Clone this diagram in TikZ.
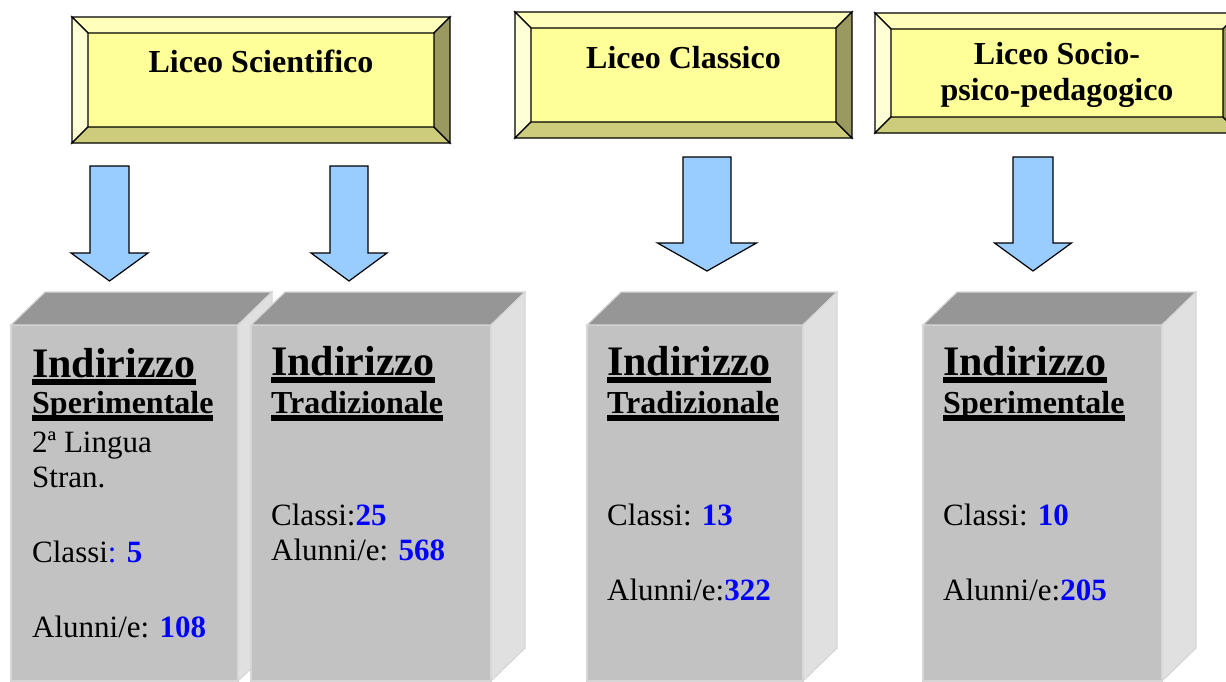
\documentclass[tikz,border=0pt]{standalone}
\usepackage{fontspec}
\setmainfont{Liberation Serif}

\definecolor{facey}{HTML}{FFFF99}
\definecolor{bevtop}{HTML}{FFFFBB}
\definecolor{bevleft}{HTML}{FFFFD6}
\definecolor{bevbottom}{HTML}{CCCC7A}
\definecolor{bevright}{HTML}{999960}
\definecolor{arrowblue}{HTML}{99CCFF}
\definecolor{cardfront}{HTML}{C2C2C2}
\definecolor{cardtop}{HTML}{969696}
\definecolor{cardside}{HTML}{E0E0E0}
\definecolor{cardedge}{HTML}{D6D6D6}
\definecolor{numblue}{HTML}{0000FF}

\newcommand{\thickul}[1]{\setbox0\hbox{#1}\rlap{\copy0}\rule[-8pt]{\wd0}{6pt}}
\newcommand{\bnum}[1]{\textcolor{numblue}{\bfseries #1}}

\begin{document}
\begin{tikzpicture}[x=1pt,y=-1pt,
    bevel/.style={draw=black,line width=1.3pt,line join=miter},
    blockarrow/.style={draw=black,line width=1.2pt,fill=arrowblue,line join=miter},
    card/.style={draw=cardedge,line width=1.2pt},
    title/.style={font=\fontsize{32}{36}\selectfont\bfseries,inner sep=0pt},
    head/.style={font=\fontsize{42}{46}\selectfont\bfseries,inner sep=0pt,anchor=base west},
    sub/.style={font=\fontsize{32}{36}\selectfont\bfseries,inner sep=0pt,anchor=base west},
    info/.style={font=\fontsize{31}{35}\selectfont,inner sep=0pt,anchor=base west,align=left}]

    \useasboundingbox (0,0) rectangle (1226,681);

    % bevelled boxes on top
    \foreach \l/\t/\r/\b in {72/17/450/143, 515/12/852/138, 875/13/1239/133}{
        \fill[facey] ({\l+16},{\t+16}) rectangle ({\r-16},{\b-16});
        \filldraw[bevel,fill=bevtop] (\l,\t) -- (\r,\t) -- ({\r-16},{\t+16}) -- ({\l+16},{\t+16}) -- cycle;
        \filldraw[bevel,fill=bevleft] (\l,\t) -- ({\l+16},{\t+16}) -- ({\l+16},{\b-16}) -- (\l,\b) -- cycle;
        \filldraw[bevel,fill=bevbottom] (\l,\b) -- ({\l+16},{\b-16}) -- ({\r-16},{\b-16}) -- (\r,\b) -- cycle;
        \filldraw[bevel,fill=bevright] (\r,\t) -- (\r,\b) -- ({\r-16},{\b-16}) -- ({\r-16},{\t+16}) -- cycle;
    }

    \node[title,anchor=base] (sci) at (261,72) {Liceo Scientifico};
    \node[title,anchor=base] (cla) at (683.5,68) {Liceo Classico};
    \node[title,align=center] (soc) at (1057,74.5) {Liceo Socio-\\psico-pedagogico};

    % block arrows
    \foreach \cx/\sw/\hw/\ya/\yb/\yc in {109.5/19.5/38.5/166/253/281, 349/19/38/166/253/281,
                                         707/24/49.5/157/243/271, 1033/20/38.5/157/243/271}{
        \filldraw[blockarrow] ({\cx-\sw},\ya) -- ({\cx+\sw},\ya) -- ({\cx+\sw},\yb) -- ({\cx+\hw},\yb)
            -- (\cx,\yc) -- ({\cx-\hw},\yb) -- ({\cx-\sw},\yb) -- cycle;
    }

    % grey blocks
    \foreach \l/\r in {11/238, 251/491, 587/803, 923/1162}{
        \filldraw[card,fill=cardfront] (\l,325) rectangle (\r,681);
        \filldraw[card,fill=cardtop] (\l,325) -- ({\l+34},292) -- ({\r+34},292) -- (\r,325) -- cycle;
        \filldraw[card,fill=cardside] (\r,325) -- ({\r+34},292) -- ({\r+34},648) -- (\r,681) -- cycle;
    }

    \node[head] (indA) at (32,377) {\thickul{Indirizzo}};
    \node[sub] (subA) at (32,413) {\thickul{Sperimentale}};
    \node[info] (infA) at (32,637) {2ª Lingua\\Stran.\\[40pt]Classi\textcolor{numblue}{: \textbf{5}}\\[40pt]Alunni/e: \bnum{108}};

    \node[head] (indB) at (271,375) {\thickul{Indirizzo}};
    \node[sub] (subB) at (271,413) {\thickul{Tradizionale}};
    \node[info] (infB) at (271,560) {Classi:\bnum{25}\\Alunni/e: \bnum{568}};

    \node[head] (indC) at (607,375) {\thickul{Indirizzo}};
    \node[sub] (subC) at (607,413) {\thickul{Tradizionale}};
    \node[info] (infC) at (607,600) {Classi: \bnum{13}\\[40pt]Alunni/e:\bnum{322}};

    \node[head] (indD) at (943,375) {\thickul{Indirizzo}};
    \node[sub] (subD) at (943,413) {\thickul{Sperimentale}};
    \node[info] (infD) at (943,600) {Classi: \bnum{10}\\[40pt]Alunni/e:\bnum{205}};

\end{tikzpicture}
\end{document}
